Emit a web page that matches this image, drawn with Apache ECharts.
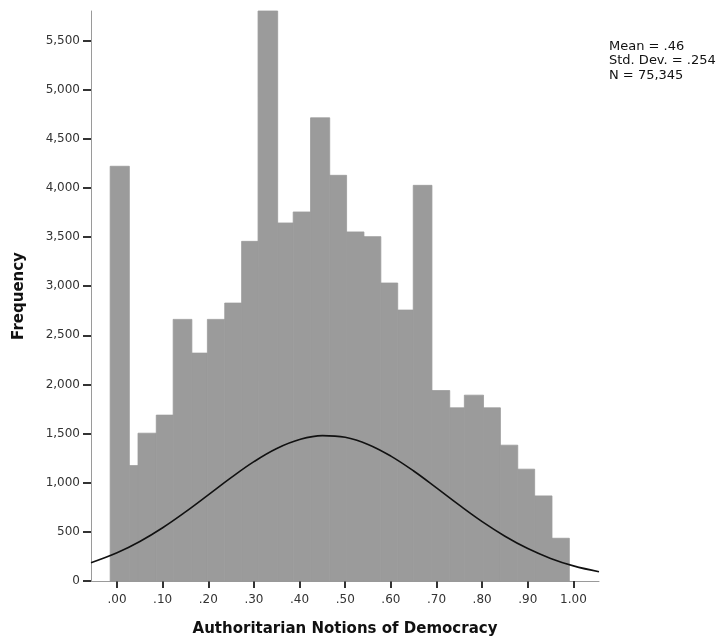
<!DOCTYPE html>
<html>
<head>
<meta charset="utf-8">
<script src="https://cdn.jsdelivr.net/npm/echarts@6/dist/echarts.min.js"></script>
<style>html,body{margin:0;padding:0;background:#fff}#c{width:719px;height:640px}</style>
</head>
<body>
<div id="c"></div>
<script>
// Histogram bin edges (left edge of each bar, plus final right edge)
var binEdges = [-0.015, 0.027, 0.046, 0.086, 0.123, 0.164, 0.198, 0.236, 0.273, 0.309,
  0.352, 0.386, 0.424, 0.466, 0.503, 0.541, 0.578, 0.615, 0.649, 0.690,
  0.729, 0.761, 0.803, 0.840, 0.878, 0.915, 0.953, 0.991];
// Frequency of each bin
var counts = [4220, 1174, 1504, 1688, 2662, 2319, 2662, 2828, 3456, 5800,
  3643, 3755, 4713, 4128, 3552, 3504, 3032, 2757, 4026, 1938,
  1762, 1891, 1762, 1382, 1138, 866, 435];
// Normal curve points
var curveX = [-0.057, 0.00, 0.05, 0.10, 0.15, 0.20, 0.25, 0.30, 0.35, 0.40, 0.45,
  0.50, 0.55, 0.60, 0.65, 0.70, 0.75, 0.80, 0.85, 0.90, 0.95, 1.00, 1.056];
var curveY = [186, 287, 402, 542, 703, 876, 1051, 1214, 1348, 1439, 1479,
  1462, 1390, 1271, 1119, 947, 771, 604, 456, 330, 230, 154, 94];
// Tick values / labels
var xTicks = [0, 0.1, 0.2, 0.3, 0.4, 0.5, 0.6, 0.7, 0.8, 0.9, 1.0];
var xTickLabels = ['.00', '.10', '.20', '.30', '.40', '.50', '.60', '.70', '.80', '.90', '1.00'];
var yTicks = [0, 500, 1000, 1500, 2000, 2500, 3000, 3500, 4000, 4500, 5000, 5500];
var statsLines = ['Mean = .46', 'Std. Dev. = .254', 'N = 75,345'];
var xTitle = 'Authoritarian Notions of Democracy';
var yTitle = 'Frequency';

var histData = counts.map(function (c, i) { return [binEdges[i], binEdges[i + 1], c]; });
var curveData = curveX.map(function (x, i) { return [x, curveY[i]]; });

var chart = echarts.init(document.getElementById('c'), null, { renderer: 'canvas' });
var font = 'DejaVu Sans';
chart.setOption({
  animation: false,
  backgroundColor: '#ffffff',
  grid: { left: 91, right: 120, top: 11, bottom: 59, containLabel: false, outerBoundsMode: 'none' },
  xAxis: {
    type: 'value', min: -0.057, max: 1.056,
    name: xTitle, nameLocation: 'middle', nameGap: 41,
    nameTextStyle: { fontFamily: font, fontSize: 15, fontWeight: 'bold', color: '#111' },
    axisLine: { show: true, onZero: false, lineStyle: { color: '#9a9a9a', width: 1 } },
    axisTick: { show: true, length: 7, lineStyle: { color: '#333', width: 2 }, customValues: xTicks },
    axisLabel: {
      customValues: xTicks, margin: 13, fontFamily: font, fontSize: 12, color: '#333',
      formatter: function (v) { var i = xTicks.indexOf(v); return i >= 0 ? xTickLabels[i] : ''; }
    },
    splitLine: { show: false }
  },
  yAxis: {
    type: 'value', min: 0, max: 5800,
    name: yTitle, nameLocation: 'middle', nameGap: 64, nameRotate: 90,
    nameTextStyle: { fontFamily: font, fontSize: 15, fontWeight: 'bold', color: '#111' },
    axisLine: { show: true, onZero: false, lineStyle: { color: '#9a9a9a', width: 1 } },
    axisTick: { show: true, length: 8, lineStyle: { color: '#333', width: 2 }, customValues: yTicks },
    axisLabel: {
      customValues: yTicks, margin: 11, fontFamily: font, fontSize: 12, color: '#333',
      formatter: function (v) { return v.toLocaleString('en-US'); }
    },
    splitLine: { show: false }
  },
  series: [
    {
      type: 'custom',
      data: histData,
      encode: { x: [0, 1], y: 2 },
      renderItem: function (params, api) {
        var p0 = api.coord([api.value(0), api.value(2)]);
        var p1 = api.coord([api.value(1), 0]);
        return {
          type: 'rect',
          shape: { x: p0[0], y: p0[1], width: p1[0] - p0[0], height: p1[1] - p0[1] },
          style: { fill: '#9b9b9b', stroke: '#9b9b9b', lineWidth: 0.8 }
        };
      },
      z: 2
    },
    {
      type: 'line',
      data: curveData,
      smooth: 0.4,
      showSymbol: false,
      lineStyle: { color: '#111', width: 1.6 },
      z: 3
    }
  ],
  graphic: [
    {
      type: 'text', left: 609, top: 39,
      style: {
        text: statsLines.join('\n'), fontFamily: font, fontSize: 13, lineHeight: 14.5, fill: '#111'
      }
    }
  ]
});
</script>
</body>
</html>
